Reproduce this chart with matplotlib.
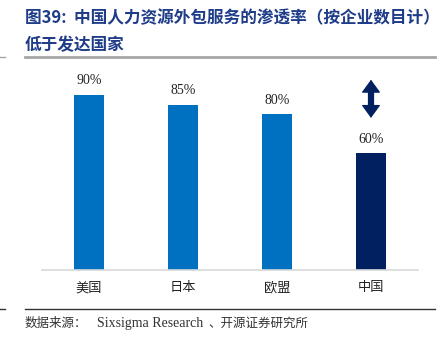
import matplotlib.pyplot as plt
from matplotlib.lines import Line2D

plt.rcParams['font.family'] = ['Noto Sans CJK SC', 'DejaVu Sans']

# data
countries = ['美国', '日本', '欧盟', '中国']
rates = [90, 85, 80, 60]
rate_labels = ['90%', '85%', '80%', '60%']
bar_colors = ['#0070C0', '#0070C0', '#0070C0', '#002060']

fig = plt.figure(figsize=(4.44, 3.49), dpi=100)
ax = fig.add_axes([0.0946, 0.2264, 0.8468, 0.5573])

x = range(len(countries))
ax.bar(x, rates, width=0.32, color=bar_colors, zorder=2)
ax.set_xlim(-0.5, 3.5)
ax.set_ylim(0, 100)

for i, (v, lab) in enumerate(zip(rates, rate_labels)):
    ax.text(i, v + 4, lab, ha='center', va='bottom', fontsize=10,
            family='Liberation Serif', color='#222222')

# double arrow above China bar: thick shaft + sharp heads
ax.plot([3, 3], [82, 94], color='#002060', lw=4.5, solid_capstyle='butt')
ax.annotate('', xy=(3, 97.8), xytext=(3, 78.2),
            arrowprops=dict(arrowstyle='<|-|>,head_width=0.55,head_length=0.75',
                            color='#002060', lw=0.8, shrinkA=0, shrinkB=0,
                            mutation_scale=11))

ax.set_xticks(list(x))
ax.set_xticklabels(countries, fontsize=9.5, color='#222222')
ax.tick_params(axis='x', length=0, pad=8)
ax.set_yticks([])
for s in ['top', 'right', 'left']:
    ax.spines[s].set_visible(False)
ax.spines['bottom'].set_color('#d9d9d9')
ax.spines['bottom'].set_linewidth(1.2)

# title
fig.text(25 / 444, 1 - 18 / 349, '图39:  中国人力资源外包服务的渗透率（按企业数目计）',
         fontsize=12, fontweight='bold', color='#1F3C88', va='center', ha='left')
fig.text(25 / 444, 1 - 45 / 349, '低于发达国家',
         fontsize=12, fontweight='bold', color='#1F3C88', va='center', ha='left')

# header / footer rules
fig.add_artist(Line2D([25 / 444, 435 / 444], [1 - 57 / 349] * 2, color='#a6a6a6', lw=2))
fig.add_artist(Line2D([0, 5 / 444], [1 - 57 / 349] * 2, color='#a6a6a6', lw=1))
fig.add_artist(Line2D([25 / 444, 435 / 444], [1 - 309 / 349] * 2, color='#333333', lw=1))
fig.add_artist(Line2D([0, 5 / 444], [1 - 309 / 349] * 2, color='#333333', lw=1))

fig.text(25 / 444, 1 - 323 / 349, '数据来源：', fontsize=9, color='#333333', va='center')
fig.text(97 / 444, 1 - 323 / 349, 'Sixsigma Research', fontsize=10,
         family='Liberation Serif', color='#333333', va='center')
fig.text(208 / 444, 1 - 323 / 349, '、开源证券研究所', fontsize=9, color='#333333', va='center')

fig.savefig('out.png', dpi=100)
